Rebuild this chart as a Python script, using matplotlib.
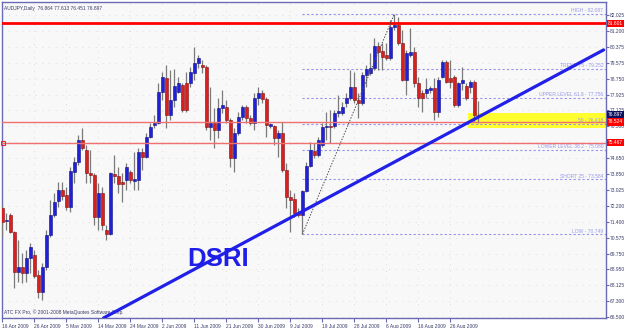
import matplotlib
matplotlib.use('Agg')
import matplotlib.pyplot as plt
import matplotlib.transforms as mtransforms
import numpy as np

plt.rcParams['font.family'] = ['Liberation Sans', 'DejaVu Sans']

# AUDJPY daily candles, one per bar (Sun-Fri bars)
opens = [72.10, 71.43, 71.74, 70.87, 68.81, 69.07, 68.76, 69.53, 69.69, 68.66,
         67.78, 69.07, 70.71, 71.74, 72.46, 73.03, 72.77, 72.15, 73.95, 74.47,
         75.60, 75.08, 73.90, 73.80, 71.64, 72.87, 70.97, 70.77, 73.85, 73.75,
         73.44, 73.54, 73.95, 73.49, 73.54, 74.98, 74.72, 75.75, 76.37, 76.47,
         78.07, 78.79, 76.88, 77.66, 78.07, 78.43, 78.53, 78.53, 79.04, 79.56,
         79.45, 79.35, 76.27, 76.47, 76.11, 77.24, 77.30, 76.63, 74.67, 75.96,
         76.78, 77.30, 76.73, 76.47, 77.76, 78.01, 77.71, 76.32, 76.32, 75.70,
         75.96, 74.06, 72.67, 72.57, 71.85, 71.74, 72.98, 74.26, 75.03, 74.83,
         75.34, 76.27, 76.32, 76.32, 76.99, 76.99, 77.50, 77.76, 78.32, 77.66,
         77.50, 78.94, 79.04, 79.30, 80.43, 80.17, 79.97, 79.81, 81.41, 81.51,
         80.59, 78.68, 79.97, 80.12, 78.53, 78.01, 78.01, 78.17, 78.27, 77.04,
         78.84, 79.61, 78.79, 78.84, 77.40, 78.53, 78.37, 78.32, 78.58, 76.864]
highs = [72.26, 71.85, 71.85, 70.92, 70.46, 69.79, 69.94, 70.30, 69.94, 68.91,
         69.27, 70.97, 72.51, 72.87, 73.44, 73.44, 73.18, 74.21, 74.72, 75.86,
         76.22, 75.34, 75.08, 73.90, 73.39, 73.18, 71.23, 73.95, 74.83, 74.21,
         73.90, 74.42, 74.06, 74.98, 75.19, 75.19, 75.96, 76.47, 76.88, 78.53,
         79.09, 79.45, 79.20, 79.25, 78.84, 78.53, 79.09, 79.35, 80.38, 79.97,
         79.71, 79.45, 78.32, 77.24, 77.76, 78.17, 77.66, 76.73, 76.22, 77.04,
         77.40, 77.40, 76.88, 78.01, 78.32, 78.17, 77.81, 76.47, 76.37, 76.11,
         76.52, 74.42, 73.03, 72.87, 72.10, 73.03, 74.47, 75.50, 75.44, 75.75,
         76.47, 77.04, 77.14, 77.14, 77.91, 77.55, 78.01, 79.20, 79.09, 78.01,
         79.09, 79.45, 80.07, 80.84, 80.64, 80.59, 80.59, 81.77, 82.087, 81.92,
         81.25, 80.23, 81.36, 80.38, 78.84, 78.17, 78.79, 78.37, 78.79, 78.84,
         79.71, 79.71, 79.71, 78.94, 78.58, 79.35, 78.53, 78.68, 78.68, 77.613]
lows = [70.61, 70.97, 70.82, 67.99, 68.30, 68.25, 68.30, 68.76, 68.50, 67.48,
        67.37, 68.91, 70.61, 71.64, 72.15, 72.51, 72.00, 71.90, 73.39, 74.31,
        75.08, 73.39, 73.39, 71.23, 70.97, 70.97, 70.46, 70.71, 73.39, 72.87,
        72.41, 73.03, 73.39, 73.03, 73.03, 74.06, 74.67, 75.70, 76.22, 76.42,
        77.66, 76.22, 76.63, 77.30, 78.01, 77.04, 77.04, 78.32, 78.68, 79.30,
        79.04, 76.11, 75.60, 75.19, 75.70, 76.99, 76.47, 74.21, 73.95, 75.86,
        76.63, 76.47, 76.37, 76.11, 77.40, 77.50, 75.75, 76.22, 75.34, 74.72,
        73.95, 72.10, 70.87, 71.64, 71.64, 70.749, 72.92, 74.21, 74.67, 74.72,
        75.24, 75.60, 75.44, 76.22, 76.78, 76.88, 77.30, 77.66, 77.50, 76.73,
        77.40, 78.32, 78.94, 79.20, 79.20, 79.20, 79.71, 79.71, 81.25, 80.48,
        78.63, 77.91, 79.87, 78.32, 77.30, 77.04, 77.76, 78.01, 76.63, 76.78,
        78.79, 78.53, 78.27, 77.30, 77.30, 78.17, 77.66, 78.01, 76.52, 76.451]
closes = [71.38, 71.49, 70.87, 68.81, 69.07, 68.76, 69.53, 70.10, 68.61, 67.78,
          69.07, 70.71, 71.74, 72.41, 73.03, 72.72, 72.15, 74.01, 74.47, 75.60,
          75.19, 73.90, 73.80, 71.64, 72.87, 71.23, 70.77, 73.90, 73.75, 73.34,
          73.34, 74.21, 73.54, 73.59, 74.98, 74.72, 75.75, 76.27, 76.47, 78.07,
          78.84, 76.88, 77.66, 78.37, 78.53, 77.14, 77.14, 79.09, 79.56, 79.81,
          79.35, 76.27, 76.47, 76.11, 77.24, 77.40, 76.63, 74.67, 75.96, 76.78,
          77.30, 76.73, 76.47, 77.76, 78.01, 77.71, 76.37, 76.42, 75.70, 75.96,
          74.06, 72.67, 72.51, 71.85, 71.74, 72.98, 74.26, 75.08, 74.83, 75.60,
          76.27, 76.32, 76.27, 76.99, 77.09, 77.30, 77.76, 78.32, 77.66, 77.50,
          78.94, 79.25, 79.30, 80.43, 80.12, 79.87, 79.81, 81.41, 81.51, 80.59,
          78.68, 80.07, 80.12, 78.53, 77.76, 77.76, 78.22, 78.27, 77.04, 78.68,
          79.61, 78.58, 78.58, 77.40, 78.53, 78.68, 77.76, 78.58, 76.88, 76.897]

date_labels = ['16 Apr 2009', '26 Apr 2009', '5 May 2009', '14 May 2009', '24 May 2009',
               '2 Jun 2009', '11 Jun 2009', '21 Jun 2009', '30 Jun 2009', '9 Jul 2009',
               '19 Jul 2009', '28 Jul 2009', '6 Aug 2009', '16 Aug 2009', '26 Aug 2009']
date_bars = [0, 8, 16, 24, 32, 40, 48, 56, 64, 72, 80, 88, 96, 104, 112]

price_ticks = [82.025, 81.200, 80.375, 79.575, 78.750, 77.925, 77.125, 76.300, 75.475,
               74.650, 73.850, 73.025, 72.200, 71.400, 70.575, 69.750, 68.950, 68.125,
               67.300, 66.500]

# fibonacci retracement drawn from the 9 Jul low to the 6 Aug high
fib_anchor_bars = [75, 98]
fib_anchor_prices = [70.749, 82.087]
fib_levels = [82.087, 79.252, 77.756, 76.418, 75.080, 73.584, 70.749]
fib_names = ['HIGH - 82.087', 'TREND 75 - 79.252', 'UPPER LEVEL 61.8 - 77.756',
             '50 - 76.418', 'LOWER LEVEL 38.2 - 75.080', 'SHORT 25 - 73.584',
             'LOW - 70.749']

resistance = 81.601
red_levels = [76.524, 75.467]
last_price = 76.897
zone = [76.22, 76.99]
zone_start = 116.3
trend_bars = [25.3, 150.3]
trend_prices = [66.45, 80.23]

UP = '#2020d8'
DOWN = '#d82020'
AXCOL = '#6a6ab4'
TXT = '#3a3a6a'
SMALL = 3.5

fig = plt.figure(figsize=(6.25, 3.28), dpi=100)
fig.patch.set_facecolor('white')
ax = fig.add_axes([2 / 625, 10 / 328, 604 / 625, 316 / 328])
ax.set_facecolor('#f8f8f8')
ax.set_xlim(-0.1, 150.9)
ax.set_ylim(66.447, 82.693)

for s in ax.spines.values():
    s.set_color(AXCOL)
    s.set_linewidth(1)

# price tags cover the axis label underneath them
tag_prices = [resistance, last_price] + red_levels
ytick_text = ['' if min(abs(v - t) for t in tag_prices) < 0.15 else '%.3f' % v
              for v in price_ticks]
ax.yaxis.tick_right()
ax.set_yticks(price_ticks)
ax.set_yticklabels(ytick_text)
ax.set_xticks(date_bars)
ax.set_xticklabels(date_labels, ha='left')
ax.tick_params(axis='y', colors=AXCOL, labelcolor=TXT, labelsize=SMALL, length=2, width=0.8, pad=0.8)
ax.tick_params(axis='x', colors=AXCOL, labelcolor=TXT, labelsize=SMALL, length=3, width=0.8, pad=1.0)
ax.grid(True, color='#d4d4d4', linestyle=(0, (1, 7)), linewidth=0.6)
ax.set_axisbelow(True)

# yellow support zone
ax.fill_between([zone_start, 151], zone[0], zone[1], color='#ffff30', zorder=1, lw=0)

# horizontal levels
ax.axhline(resistance, color='#ff0000', lw=2, zorder=4)
for lv in red_levels:
    ax.axhline(lv, color='#f07070', lw=1, zorder=4)
ax.plot([0.1], [red_levels[1]], marker='s', ms=3, mfc='none', mec='#e03030', mew=0.8,
        zorder=5, clip_on=False)

# fib levels
for lv, name in zip(fib_levels, fib_names):
    ax.plot([fib_anchor_bars[0], 151], [lv, lv], color='#9494ee', lw=0.8,
            ls=(0, (2, 2)), zorder=2)
    ax.text(150.2, lv + 0.03, name, color='#9a9ae8', fontsize=3.6, ha='right',
            va='bottom', zorder=6)
ax.plot(fib_anchor_bars, fib_anchor_prices, color='#505050', lw=0.7,
        ls=(0, (1.5, 1.5)), zorder=5)

# candles
x = np.arange(len(opens))
o = np.array(opens)
c = np.array(closes)
up = c >= o
body = np.maximum(np.abs(c - o), 0.04)
ax.vlines(x, lows, highs, color='#7a7a7a', lw=0.9, zorder=3)
ax.bar(x[up], body[up], bottom=np.minimum(o, c)[up], width=0.72, color=UP,
       edgecolor='#101080', linewidth=0.4, zorder=3.5)
ax.bar(x[~up], body[~up], bottom=np.minimum(o, c)[~up], width=0.72, color=DOWN,
       edgecolor='#801010', linewidth=0.4, zorder=3.5)

# rising trend line
ax.plot(trend_bars, trend_prices, color='#2020e8', lw=2.3, zorder=6, solid_capstyle='round')
ax.text(54, 69.5, 'DSRI', color='#1e1ee8', fontsize=18.5, fontweight='bold',
        ha='center', va='center', zorder=7)

# price tags on the right axis
tr = mtransforms.blended_transform_factory(ax.transAxes, ax.transData)
for lv, col in [(resistance, '#ff0000'), (last_price, '#101060'),
                (red_levels[0], '#ff0000'), (red_levels[1], '#ff0000')]:
    ax.text(1.003, lv, '%.3f' % lv, transform=tr, color='white', fontsize=SMALL,
            ha='left', va='center', zorder=8, clip_on=False,
            bbox=dict(boxstyle='square,pad=0.25', fc=col, ec='none'))

ax.text(0.004, 0.987, 'AUDJPY,Daily  76.864 77.613 76.451 76.897', transform=ax.transAxes,
        color=TXT, fontsize=SMALL, ha='left', va='top')
ax.text(0.004, 0.01, 'ATC FX Pro, \u00a9 2001-2008 MetaQuotes Software Corp.',
        transform=ax.transAxes, color=TXT, fontsize=SMALL, ha='left', va='bottom')

fig.savefig('out.png', dpi=100, facecolor=fig.get_facecolor())
